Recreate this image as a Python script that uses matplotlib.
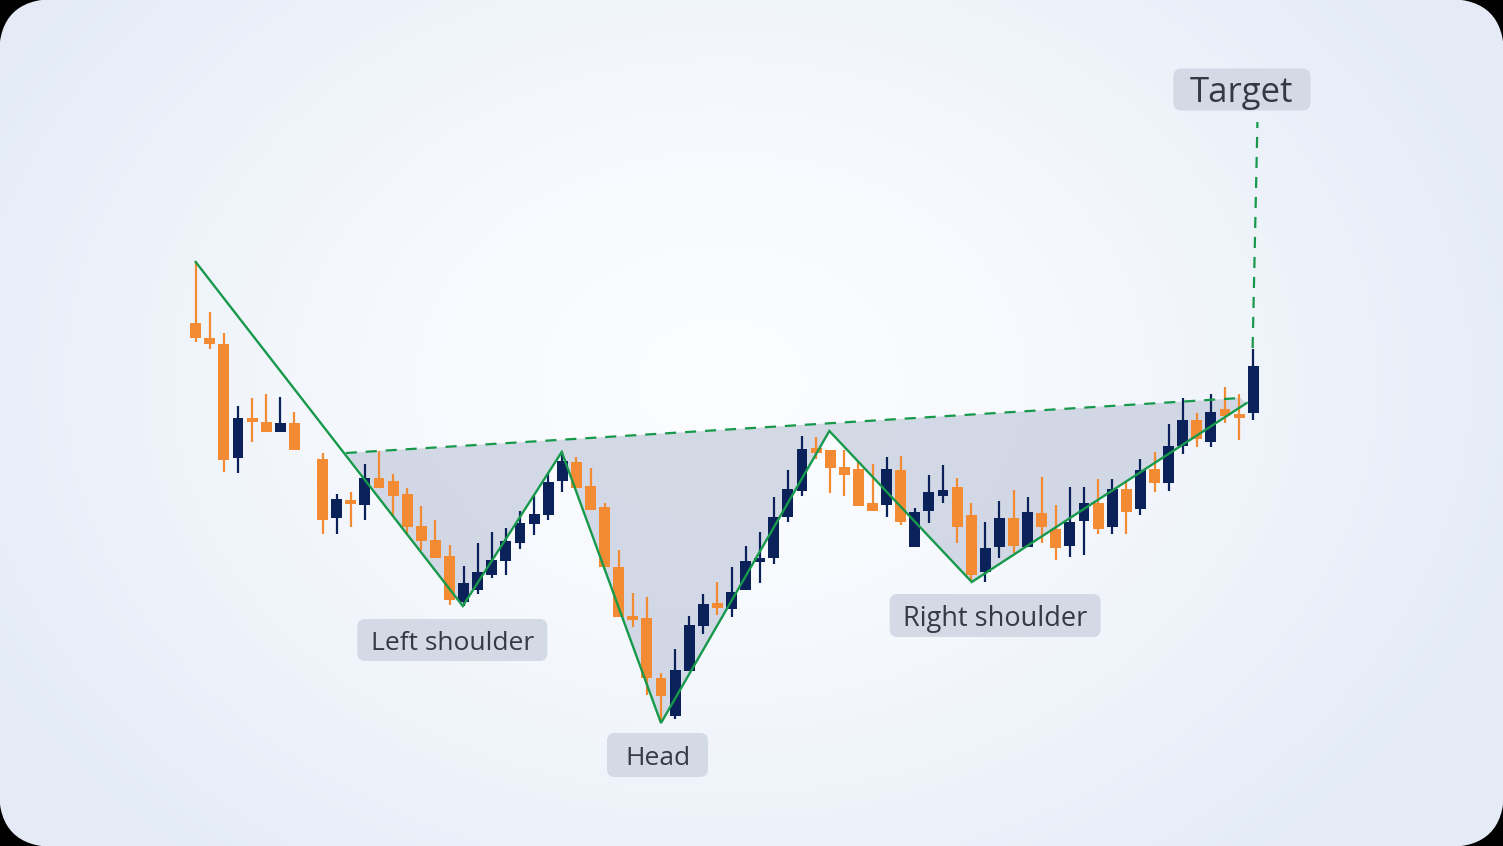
import numpy as np
import matplotlib
matplotlib.use("Agg")
import matplotlib.pyplot as plt
from matplotlib.patches import FancyBboxPatch, Polygon

plt.rcParams["font.family"] = ["Open Sans", "DejaVu Sans"]

# ── candle data (slot index, open, high, low, close) ─────────────────────────────
slot = [0, 1, 2, 3, 4, 5, 6, 7,
        9, 10, 11, 12, 13, 14, 15, 16, 17, 18, 19, 20, 21, 22, 23, 24, 25, 26, 27, 28,
        29, 30, 31, 32, 33, 34, 35, 36, 37, 38, 39, 40, 41, 42, 43, 44, 45, 46, 47, 48,
        49, 50, 51, 52, 53, 54, 55, 56, 57, 58, 59, 60, 61, 62, 63, 64, 65, 66, 67, 68,
        69, 70, 71, 72, 73, 74, 75]
opens = [52.3, 50.8, 50.2, 38.8, 42.8, 42.4, 41.4, 42.3,
         38.7, 32.8, 34.5, 34.1, 36.8, 36.5, 35.2, 32.0, 30.6, 29.0, 24.4, 25.6, 27.1, 28.5,
         30.3, 32.2, 33.1, 36.5, 38.4, 36.0, 33.9, 27.9, 23.0, 22.8, 16.8, 13.0, 17.5, 22.0,
         24.3, 23.7, 25.6, 28.4, 28.8, 32.9, 35.5, 39.8, 39.6, 37.9, 37.7, 34.3, 34.1, 37.6,
         29.9, 33.5, 35.0, 35.9, 33.1, 27.4, 29.9, 32.8, 29.9, 33.3, 31.7, 30.0, 32.5, 34.3,
         31.9, 35.7, 33.7, 37.7, 36.3, 40.0, 42.6, 40.4, 43.7, 43.1, 43.3]
highs = [58.4, 53.4, 51.3, 44.0, 44.8, 45.2, 44.9, 43.4,
         39.3, 35.2, 35.4, 38.2, 39.5, 37.2, 35.8, 34.0, 32.6, 30.1, 28.0, 30.3, 31.4, 31.8,
         33.5, 35.0, 37.3, 39.4, 38.9, 37.8, 34.3, 29.6, 25.3, 24.9, 17.3, 19.7, 23.0, 25.2,
         26.4, 27.9, 30.0, 31.4, 34.9, 37.6, 41.0, 40.9, 39.6, 39.6, 38.4, 38.2, 38.9, 39.0,
         33.8, 37.1, 38.1, 36.8, 34.3, 32.4, 34.5, 35.6, 34.9, 36.9, 34.1, 35.9, 35.9, 36.7,
         36.7, 36.4, 38.7, 39.4, 42.2, 44.8, 43.3, 45.2, 45.9, 45.2, 49.7]
lows = [50.4, 49.7, 37.4, 37.3, 40.4, 41.4, 41.4, 39.6,
        31.2, 31.2, 31.9, 32.6, 35.8, 32.9, 31.1, 29.6, 28.8, 24.1, 24.0, 25.2, 26.8, 27.1,
        29.7, 31.1, 32.6, 35.4, 35.8, 33.6, 27.9, 22.9, 21.9, 15.1, 12.4, 12.7, 17.5, 21.2,
        23.1, 22.9, 25.6, 26.3, 28.2, 32.4, 35.0, 38.7, 35.3, 35.0, 34.0, 33.5, 32.9, 32.1,
        29.9, 32.3, 34.3, 30.3, 26.6, 26.4, 28.8, 29.3, 29.9, 30.3, 28.6, 28.9, 29.1, 31.2,
        31.2, 31.2, 33.1, 35.4, 35.5, 39.2, 39.9, 39.9, 42.3, 40.6, 42.6]
closes = [50.8, 50.2, 38.6, 42.8, 42.4, 41.4, 42.3, 39.6,
          32.6, 34.7, 34.2, 36.8, 35.8, 35.0, 31.9, 30.5, 28.8, 24.6, 26.3, 27.4, 28.6, 30.5,
          32.3, 33.2, 36.4, 38.5, 35.8, 33.6, 27.9, 22.9, 22.6, 16.8, 15.0, 17.6, 22.1, 24.2,
          23.8, 25.4, 28.5, 28.8, 32.9, 35.7, 39.7, 39.3, 37.8, 37.1, 34.0, 33.5, 37.7, 32.4,
          33.4, 35.4, 35.6, 31.9, 27.1, 29.8, 32.8, 30.0, 33.4, 31.9, 29.8, 32.4, 34.3, 31.7,
          35.7, 33.4, 37.6, 36.3, 40.0, 42.6, 40.7, 43.4, 43.0, 42.8, 48.0]

# ── pattern lines ────────────────────────────────────────────────────────────────
zig_x = [0, 18.94, 25.96, 33.0, 44.94, 55.04, 74.54]
zig_y = [58.4, 24.0, 39.4, 12.3, 41.5, 26.4, 44.3]
neck_x = [10.64, 74.1]
neck_y = [39.3, 44.8]
target_x = [74.96, 75.3]
target_y = [49.8, 72.4]

labels = ["Left shoulder", "Head", "Right shoulder", "Target"]
label_x = [18.2, 32.75, 56.7, 74.2]
label_y = [20.6, 9.1, 23.05, 75.65]
label_box_px = [(190, 42), (101, 44), (211, 43), (137, 42)]
label_size = [19, 19, 19.5, 25]

UP, DOWN = "#0b2159", "#f28b34"
GREEN = "#16994a"
W, H = 1503, 846
XS, YS = 14.1, 10.0           # pixels per slot / per price unit

fig = plt.figure(figsize=(W / 100, H / 100), dpi=100, facecolor="black")

# ── rounded gradient background ─────────────────────────────────────────────────
bg = fig.add_axes([0, 0, 1, 1]); bg.set_xlim(0, W); bg.set_ylim(H, 0); bg.axis("off")
yy, xx = np.mgrid[0:H:4, 0:W:4]
d = np.sqrt(((xx - 720) / 820.0) ** 2 + ((yy - 380) / 620.0) ** 2)
t = np.clip(d, 0, 1) ** 1.6
c0 = np.array([0.985, 0.99, 1.0]); c1 = np.array([0.895, 0.925, 0.968])
img = c0[None, None, :] * (1 - t[..., None]) + c1[None, None, :] * t[..., None]
im = bg.imshow(img, extent=(0, W, H, 0), interpolation="bilinear", aspect="auto")
clip = FancyBboxPatch((-1, -1), W + 2, H + 2, boxstyle="round,pad=0,rounding_size=56",
                      transform=bg.transData, facecolor="none", edgecolor="none")
bg.add_patch(clip); im.set_clip_path(clip)

# ── main axes: slot / price ─────────────────────────────────────────────────────
ax = fig.add_axes([0, 0, 1, 1]); ax.patch.set_alpha(0)
ax.set_xlim(-195.7 / XS, (W - 195.7) / XS); ax.set_ylim(0, H / YS); ax.axis("off")

poly = [(neck_x[0], neck_y[0])] + list(zip(zig_x[1:], zig_y[1:])) + [(neck_x[1], neck_y[1])]
ax.add_patch(Polygon(poly, closed=True, facecolor="#c3cadb", alpha=0.7, edgecolor="none", zorder=1))

for i in range(len(slot)):
    col = UP if closes[i] > opens[i] else DOWN
    ax.vlines(slot[i], lows[i], highs[i], color=col, lw=1.6, zorder=3)
    lo, hi = min(opens[i], closes[i]), max(opens[i], closes[i])
    ax.bar(slot[i], max(hi - lo, 0.35), bottom=lo, width=0.78, color=col, zorder=3)

ax.plot(zig_x, zig_y, color=GREEN, lw=1.7, zorder=4, solid_joinstyle="miter")
ax.plot(neck_x, neck_y, color=GREEN, lw=1.6, ls=(0, (5, 4)), zorder=4)
ax.plot(target_x, target_y, color=GREEN, lw=1.6, ls=(0, (5, 4)), zorder=4)

for lab, x, y, (bw, bh), fs in zip(labels, label_x, label_y, label_box_px, label_size):
    w, h = bw / XS, bh / YS
    ax.add_patch(FancyBboxPatch((x - w / 2, y - h / 2), w, h,
                                boxstyle=f"round,pad=0,rounding_size={8 / XS}",
                                mutation_aspect=XS / YS, facecolor="#d3d9e5",
                                edgecolor="none", zorder=5))
    ax.text(x, y, lab, ha="center", va="center_baseline", fontsize=fs,
            color="#343945", zorder=6)

fig.savefig("out.png", dpi=100, facecolor="black")
